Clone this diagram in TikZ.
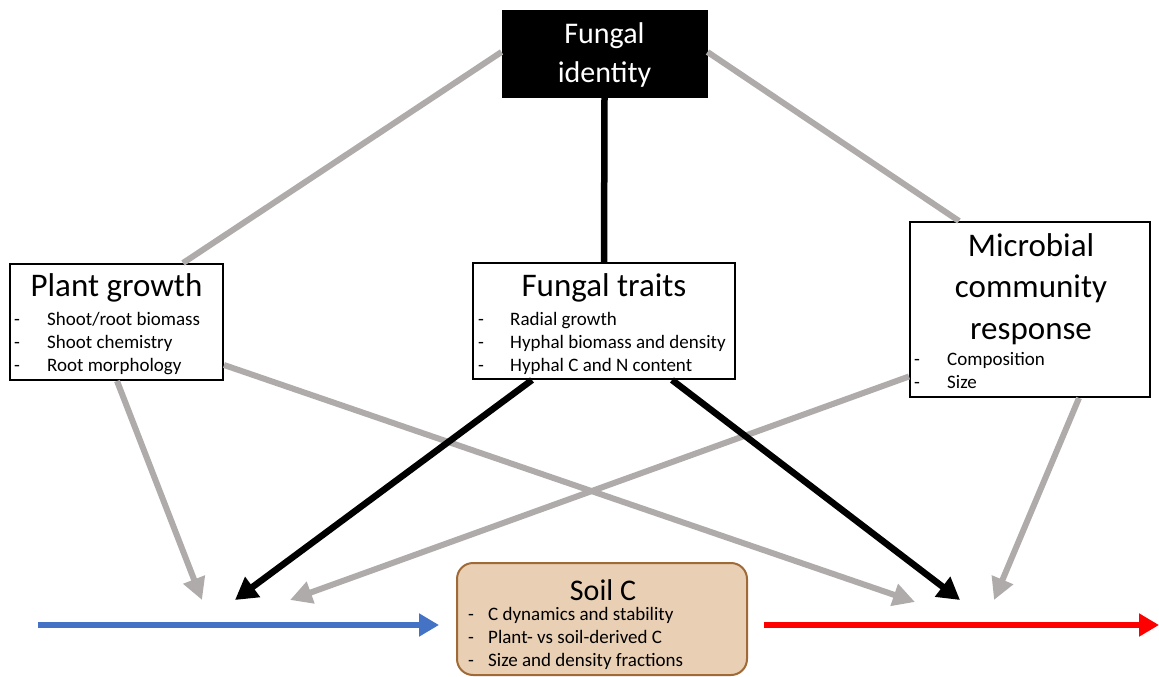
\documentclass[tikz,border=0pt]{standalone}
\usepackage{fontspec}
\setmainfont{Carlito}
\usetikzlibrary{arrows.meta,calc}
\definecolor{lgray}{HTML}{AFABAB}
\definecolor{cblue}{HTML}{4472C4}
\definecolor{cred}{HTML}{FF0000}
\definecolor{soilfill}{HTML}{E9CFB4}
\definecolor{soilline}{HTML}{A06A36}
\tikzset{
  box/.style={draw=black,line width=2pt,fill=white,inner sep=0pt},
  ttl/.style={font=\fontsize{33}{40}\selectfont,inner sep=0pt,align=center},
  bul/.style={font=\fontsize{19}{23}\selectfont,inner sep=0pt,anchor=west,text height=13pt,text depth=4pt},
  grayline/.style={draw=lgray,line width=6pt},
  grayarr/.style={grayline,-{Triangle[length=22pt,width=22pt]}},
  blackline/.style={draw=black,line width=6.5pt},
  blackarr/.style={blackline,-{Triangle[length=22pt,width=24pt]}},
  flowarr/.style={line width=6pt,-{Triangle[length=20pt,width=22pt]}}
}
\begin{document}
\begin{tikzpicture}[x=1pt,y=-1pt]
\useasboundingbox (0,0) rectangle (1159,677);

% boxes
\node[draw=black,fill=black,line width=1pt,minimum width=205pt,minimum height=86pt,inner sep=0pt] (fi) at (604.5,54) {};
\node[ttl,text=white,font=\fontsize{30}{39}\selectfont] (fit) at (604.5,55) {Fungal\\identity};

\node[box,minimum width=213pt,minimum height=116pt] (pg) at (116.5,322) {};
\node[box,minimum width=262pt,minimum height=116pt] (ft) at (604,321) {};
\node[box,minimum width=240pt,minimum height=175pt] (mc) at (1030,309.5) {};
\node[draw=soilline,fill=soilfill,line width=2pt,rounded corners=16pt,minimum width=290pt,minimum height=112pt,inner sep=0pt] (sc) at (602,619) {};

\coordinate (pgL) at (202,600);
\coordinate (pgR) at (915,602);
\coordinate (ftL) at (235,600);
\coordinate (ftR) at (960,600);
\coordinate (mcL) at (290,600);
\coordinate (mcR) at (994,600);

% top connectors
\draw[grayline] ($(fi.west)+(0,-2)$) -- ($(pg.north)+(66.5,0)$);
\draw[grayline] ($(fi.east)+(0,-2)$) -- ($(mc.north west)+(50,0)$);
\draw[blackline] (fi.south) -- (ft.north);

% arrows to flows
\draw[grayarr] ($(pg.south west)+(108,0)$) -- (pgL);
\draw[grayarr] ($(pg.east)+(0,43)$) -- (pgR);
\draw[grayarr] ($(mc.west)+(0,67)$) -- (mcL);
\draw[grayarr] ($(mc.south east)+(-72,0)$) -- (mcR);
\draw[blackarr] ($(ft.south west)+(60,0)$) -- (ftL);
\draw[blackarr] ($(ft.south west)+(200,0)$) -- (ftR);

% flow arrows
\coordinate (bstart) at (38,625);
\coordinate (rend) at (1159,625);
\draw[flowarr,cblue] (bstart) -- ($(sc.west |- bstart)+(-17,0)$);
\draw[flowarr,cred] ($(sc.east |- rend)+(16,0)$) -- (rend);

% Plant growth text
\node[ttl] at (116.5,288) {Plant growth};
\foreach \y/\t in {321/{Shoot/root biomass},344/{Shoot chemistry},367/{Root morphology}}{
  \node[bul] at (14,\y) {-};
  \node[bul] at (47,\y) {\t};
}
% Fungal traits text
\node[ttl] at (604,288) {Fungal traits};
\foreach \y/\t in {321/{Radial growth},344/{Hyphal biomass and density},367/{Hyphal C and N content}}{
  \node[bul] at (478,\y) {-};
  \node[bul] at (510,\y) {\t};
}
% Microbial text
\node[ttl,font=\fontsize{33}{41.5}\selectfont] at (1031,289) {Microbial\\community\\response};
\foreach \y/\t in {361/{Composition},384/{Size}}{
  \node[bul] at (914,\y) {-};
  \node[bul] at (947,\y) {\t};
}
% Soil C text
\node[ttl,font=\fontsize{30}{36}\selectfont] at (603,590) {Soil C};
\foreach \y/\t in {616/{C dynamics and stability},639/{Plant- vs soil-derived C},662/{Size and density fractions}}{
  \node[bul] at (468,\y) {-};
  \node[bul] at (488,\y) {\t};
}
\end{tikzpicture}
\end{document}
